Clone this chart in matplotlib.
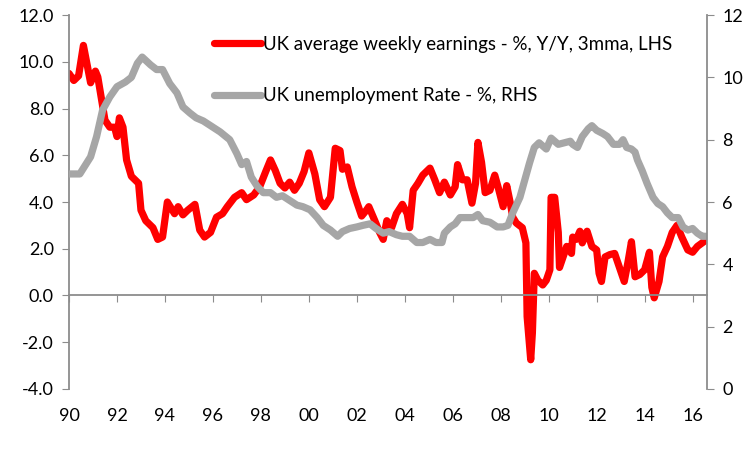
import matplotlib
matplotlib.use("Agg")
import matplotlib.pyplot as plt

plt.rcParams['font.family'] = ['Lato', 'DejaVu Sans']

# UK average weekly earnings, % Y/Y, 3mma (left axis)
earn_t = [1990.0, 1990.2, 1990.4, 1990.6, 1990.9, 1991.1, 1991.2, 1991.5, 1991.7, 1991.9,
          1992.0, 1992.1, 1992.25, 1992.4, 1992.6, 1992.9, 1993.0, 1993.2, 1993.5, 1993.7,
          1993.9, 1994.1, 1994.4, 1994.55, 1994.75, 1994.95, 1995.25, 1995.45, 1995.65, 1995.9,
          1996.15, 1996.4, 1996.6, 1996.9, 1997.2, 1997.4, 1997.7, 1997.95, 1998.2, 1998.4,
          1998.6, 1998.8, 1999.0, 1999.2, 1999.4, 1999.6, 1999.8, 2000.0, 2000.25, 2000.45,
          2000.65, 2000.9, 2001.1, 2001.3, 2001.4, 2001.6, 2001.8, 2002.0, 2002.2, 2002.4,
          2002.5, 2002.75, 2002.95, 2003.1, 2003.25, 2003.45, 2003.65, 2003.9, 2004.1, 2004.2,
          2004.35, 2004.55, 2004.75, 2005.05, 2005.25, 2005.45, 2005.65, 2005.9, 2006.1, 2006.2,
          2006.4, 2006.6, 2006.8, 2006.95, 2007.05, 2007.2, 2007.35, 2007.55, 2007.75, 2007.9,
          2008.1, 2008.25, 2008.4, 2008.5, 2008.65, 2008.9, 2009.05, 2009.1, 2009.25, 2009.32,
          2009.4, 2009.55, 2009.75, 2009.9, 2010.05, 2010.1, 2010.25, 2010.4, 2010.45, 2010.6,
          2010.75, 2010.95, 2011.0, 2011.15, 2011.3, 2011.4, 2011.6, 2011.8, 2012.0, 2012.1,
          2012.2, 2012.35, 2012.55, 2012.75, 2012.95, 2013.15, 2013.3, 2013.45, 2013.6, 2013.8,
          2014.0, 2014.2, 2014.3, 2014.4, 2014.6, 2014.75, 2014.95, 2015.15, 2015.35, 2015.55,
          2015.8, 2016.0, 2016.2, 2016.4, 2016.6]
earn_v = [9.5, 9.2, 9.4, 10.7, 9.1, 9.6, 9.35, 7.5, 7.2, 7.2,
          6.8, 7.6, 7.2, 5.8, 5.1, 4.8, 3.65, 3.2, 2.9, 2.4,
          2.5, 4.0, 3.5, 3.8, 3.45, 3.65, 3.9, 2.8, 2.5, 2.7,
          3.35, 3.5, 3.8, 4.2, 4.4, 4.1, 4.3, 4.65, 5.3, 5.8,
          5.35, 4.8, 4.6, 4.85, 4.5, 4.8, 5.3, 6.1, 5.2, 4.1,
          3.8, 4.2, 6.3, 6.2, 5.4, 5.5, 4.65, 4.0, 3.4, 3.65,
          3.8, 3.2, 2.7, 2.4, 3.2, 2.9, 3.5, 3.9, 3.5, 2.9,
          4.5, 4.8, 5.15, 5.45, 4.95, 4.4, 4.85, 4.3, 4.65, 5.6,
          4.95, 4.95, 3.95, 4.8, 6.55, 5.7, 4.4, 4.5, 5.15, 4.6,
          3.8, 4.7, 3.95, 3.35, 3.1, 2.9, 2.25, -0.9, -2.75, -1.6,
          0.95, 0.65, 0.45, 0.65, 1.1, 4.2, 4.2, 2.7, 1.2, 1.65,
          2.1, 1.8, 2.5, 2.4, 2.75, 2.25, 2.75, 2.1, 1.95, 0.95,
          0.6, 1.65, 1.75, 1.8, 1.2, 0.6, 1.4, 2.3, 0.8, 0.9,
          1.1, 1.85, 0.35, -0.1, 0.6, 1.65, 2.1, 2.7, 3.0, 2.5,
          1.95, 1.85, 2.1, 2.25, 2.4]

# UK unemployment rate, % (right axis)
unemp_t = [1990.0, 1990.45, 1990.9, 1991.15, 1991.4, 1991.7, 1992.0, 1992.35, 1992.6, 1992.85,
           1993.05, 1993.4, 1993.65, 1993.9, 1994.2, 1994.5, 1994.75, 1995.05, 1995.3, 1995.6,
           1995.9, 1996.3, 1996.7, 1997.0, 1997.2, 1997.4, 1997.6, 1997.85, 1998.1, 1998.4,
           1998.65, 1998.9, 1999.2, 1999.5, 1999.75, 2000.05, 2000.35, 2000.6, 2000.9, 2001.2,
           2001.4, 2001.7, 2002.0, 2002.25, 2002.55, 2002.8, 2003.1, 2003.35, 2003.65, 2003.9,
           2004.2, 2004.5, 2004.75, 2005.05, 2005.3, 2005.55, 2005.65, 2005.9, 2006.1, 2006.3,
           2006.6, 2006.85, 2007.05, 2007.25, 2007.55, 2007.85, 2008.1, 2008.3, 2008.5, 2008.8,
           2009.0, 2009.2, 2009.4, 2009.6, 2009.9, 2010.1, 2010.4, 2010.65, 2010.9, 2011.0,
           2011.2, 2011.4, 2011.65, 2011.8, 2012.0, 2012.25, 2012.45, 2012.7, 2012.95, 2013.1,
           2013.25, 2013.45, 2013.6, 2013.7, 2013.9, 2014.1, 2014.35, 2014.55, 2014.75, 2014.95,
           2015.15, 2015.4, 2015.6, 2015.8, 2016.0, 2016.2, 2016.4, 2016.55]
unemp_v = [6.9, 6.9, 7.45, 8.1, 8.95, 9.37, 9.7, 9.85, 10.0, 10.45,
           10.65, 10.4, 10.25, 10.25, 9.8, 9.5, 9.05, 8.85, 8.7, 8.6,
           8.45, 8.25, 8.0, 7.55, 7.2, 7.3, 6.8, 6.5, 6.3, 6.3,
           6.15, 6.2, 6.05, 5.9, 5.85, 5.75, 5.5, 5.25, 5.1, 4.9,
           5.05, 5.15, 5.2, 5.25, 5.3, 5.15, 5.0, 5.05, 4.95, 4.9,
           4.9, 4.7, 4.7, 4.8, 4.7, 4.7, 5.0, 5.2, 5.3, 5.5,
           5.5, 5.5, 5.6, 5.4, 5.35, 5.2, 5.2, 5.25, 5.65, 6.15,
           6.7, 7.25, 7.75, 7.9, 7.7, 8.05, 7.85, 7.9, 7.95, 7.85,
           7.75, 8.1, 8.35, 8.45, 8.3, 8.2, 8.1, 7.85, 7.85, 8.0,
           7.75, 7.7, 7.6, 7.35, 7.0, 6.6, 6.15, 5.95, 5.85, 5.65,
           5.5, 5.5, 5.2, 5.1, 5.15, 5.0, 4.9, 4.9]

x_ticks = list(range(1990, 2017, 2))
x_labels = ['90', '92', '94', '96', '98', '00', '02', '04', '06', '08', '10', '12', '14', '16']

RED = '#FF0000'
GREY = '#A6A6A6'
AXIS = '#8C8C8C'
FS = 13

fig = plt.figure(figsize=(7.51, 4.51), dpi=100)
ax = fig.add_axes([0.0919, 0.1375, 0.8495, 0.8292])
ax2 = ax.twinx()

l1, = ax.plot(earn_t, earn_v, color=RED, lw=5.2, solid_joinstyle='round', solid_capstyle='round',
              label='UK average weekly earnings - %, Y/Y, 3mma, LHS')
l2, = ax2.plot(unemp_t, unemp_v, color=GREY, lw=5.2, solid_joinstyle='round', solid_capstyle='round',
               label='UK unemployment Rate - %, RHS')

ax.set_xlim(1990, 2016.6)
ax.set_ylim(-4, 12)
ax.set_yticks(range(-4, 13, 2))
ax.set_yticklabels([f'{v:.1f}' for v in range(-4, 13, 2)])
ax2.set_ylim(0, 12)
ax2.set_yticks(range(0, 13, 2))

# x axis line crosses at zero, labels sit at the bottom
ax.spines['bottom'].set_position(('data', 0))
ax.set_xticks(x_ticks)
ax.tick_params(axis='x', direction='out', length=5, color=AXIS, labelbottom=False)
for s in ['top', 'right']:
    ax.spines[s].set_visible(False)
for s in ['top', 'left', 'bottom']:
    ax2.spines[s].set_visible(False)
for s in ['left', 'bottom']:
    ax.spines[s].set_color(AXIS)
    ax.spines[s].set_linewidth(1.3)
ax2.spines['right'].set_color(AXIS)
ax2.spines['right'].set_linewidth(1.3)

ax.tick_params(axis='y', direction='out', length=5, color=AXIS, labelsize=FS, pad=6)
ax2.tick_params(axis='y', direction='out', length=5, color=AXIS, labelsize=FS, pad=6)

sec = ax.secondary_xaxis('bottom')
sec.set_xticks(x_ticks)
sec.set_xticklabels(x_labels)
sec.spines['bottom'].set_visible(False)
sec.tick_params(axis='x', length=0, pad=14, labelsize=FS)

leg = ax.legend(handles=[l1, l2], loc='upper left', bbox_to_anchor=(0.228, 0.944), frameon=False,
                fontsize=13.5, handlelength=2.5, handletextpad=0.08, labelspacing=1.82,
                borderaxespad=0, borderpad=0)

fig.savefig('out.png', dpi=100)
